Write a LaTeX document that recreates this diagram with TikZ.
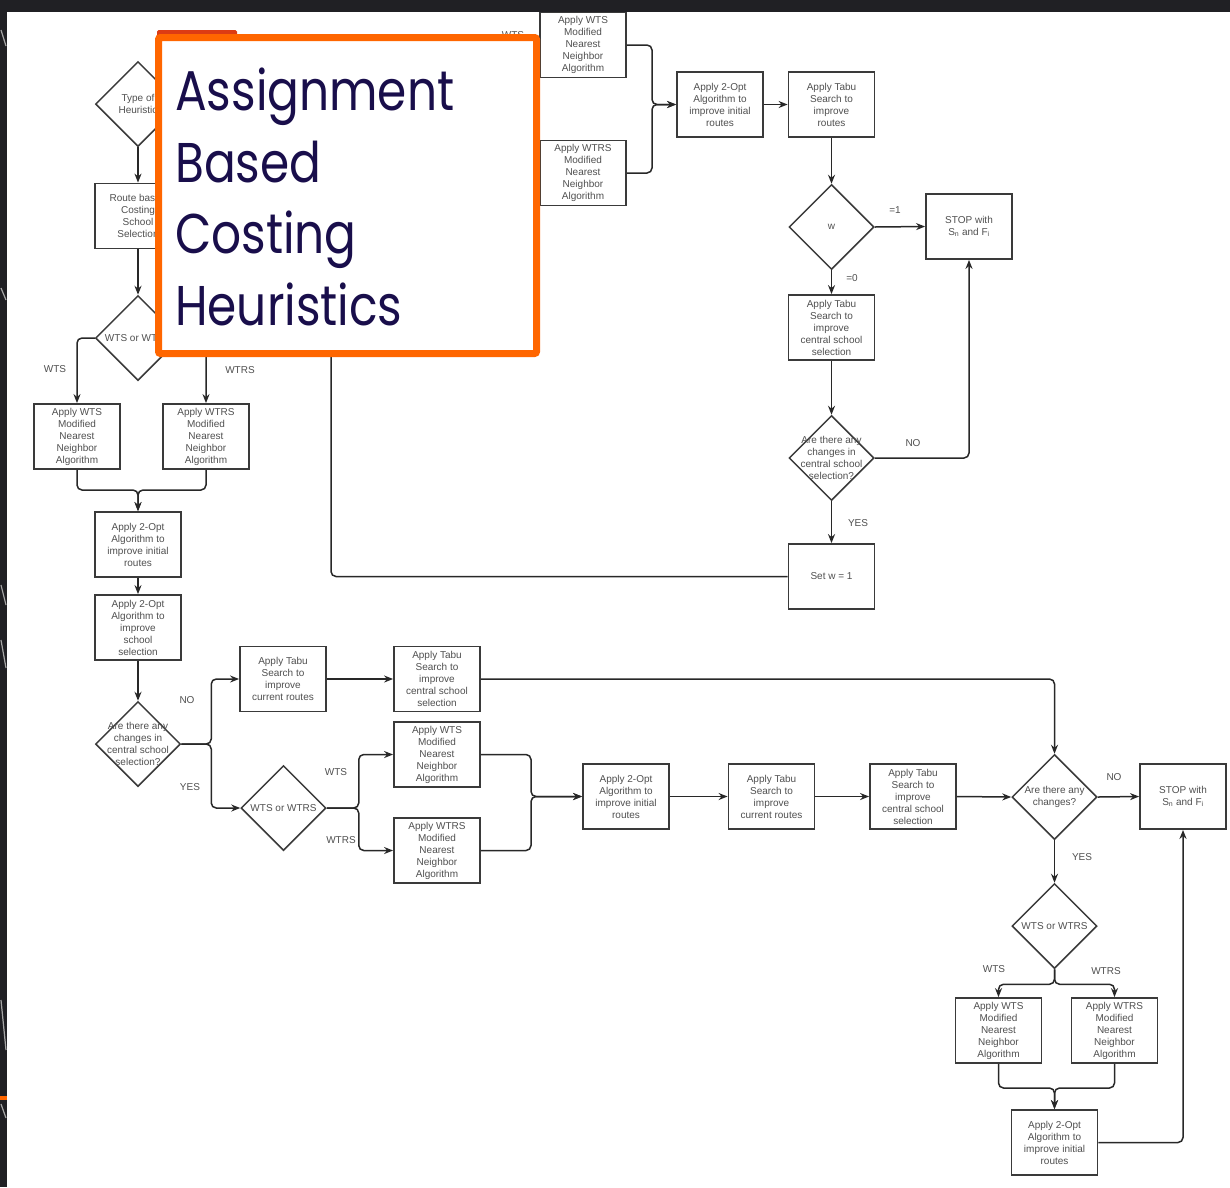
\documentclass[tikz,border=0pt]{standalone}
\usepackage{fontspec}
\setmainfont{Liberation Sans}
\newfontfamily\titlefont[FakeStretch=0.84]{Poppins}
\usetikzlibrary{shapes.geometric,arrows.meta}
\definecolor{boxc}{RGB}{58,58,58}
\definecolor{linec}{RGB}{40,40,40}
\definecolor{txtc}{RGB}{80,80,80}
\definecolor{orangec}{RGB}{255,102,0}
\definecolor{redtab}{RGB}{220,60,20}
\definecolor{titlec}{RGB}{25,14,75}
\definecolor{darkbg}{RGB}{32,32,36}
\newcommand{\boxfont}{\fontsize{10}{12}\selectfont}
\begin{document}
\begin{tikzpicture}[x=1pt,y=-1pt,
  stepbox/.style={draw=boxc, line width=1.8pt, fill=white, minimum width=86pt, minimum height=65pt,
    inner sep=1pt, align=center, font=\boxfont, text=txtc},
  dia/.style={draw=boxc, line width=1.5pt, fill=white, diamond, minimum width=85pt, minimum height=85pt, inner sep=0pt},
  dtxt/.style={font=\boxfont, text=txtc, align=center},
  conn/.style={draw=linec, line width=1.5pt, rounded corners=5pt},
  arr/.style={conn, -{Stealth[length=9pt,width=7pt]}},
  lbl/.style={font=\boxfont, text=txtc},
  titletxt/.style={font=\titlefont\fontsize{56}{60}\selectfont, text=titlec, inner sep=0pt}
]
\useasboundingbox (0,0) rectangle (1230,1187);
\fill[white] (0,0) rectangle (1230,1187);

% ---------- left column ----------
\node[dia] (dth) at (138,104) {};
\node[dtxt] (dthT) at (dth.center) {Type of\\Heuristic};
\node[stepbox] (route) at (138,216) {Route based\\Costing\\School\\Selection};
\node[dia] (dww1) at (138,338) {};
\node[dtxt] (dww1T) at (dww1.center) {WTS or WTRS};
\node[stepbox] (bw1) at (77,436.5) {Apply WTS\\Modified\\Nearest\\Neighbor\\Algorithm};
\node[stepbox] (bwr1) at (206,436.5) {Apply WTRS\\Modified\\Nearest\\Neighbor\\Algorithm};
\node[stepbox] (opt1) at (138,544.5) {Apply 2-Opt\\Algorithm to\\improve initial\\routes};
\node[stepbox] (opts) at (138,627.5) {Apply 2-Opt\\Algorithm to\\improve\\school\\selection};
\node[dia] (dch1) at (138,744) {};
\node[dtxt] (dch1T) at (dch1.center) {Are there any\\changes in\\central school\\selection?};

\coordinate (m1) at (138,490);
\draw[arr] (dth.south) -- (route.north);
\draw[arr] (route.south) -- (dww1.north);
\draw[arr] (dww1.west) -| (bw1.north);
\draw[arr] (dww1.east) -| (bwr1.north);
\draw[arr] (bw1.south) |- (m1) -- (opt1.north);
\draw[arr] (bwr1.south) |- (m1) -- (opt1.north);
\draw[arr] (opt1.south) -- (opts.north);
\draw[arr] (opts.south) -- (dch1.north);
\node[lbl] (lwts1) at (55,369) {WTS};
\node[lbl] (lwtrs1) at (240,370) {WTRS};

% ---------- lower middle row ----------
\node[stepbox] (tabu1) at (283,679) {Apply Tabu\\Search to\\improve\\current routes};
\node[stepbox] (tabuc1) at (437,679) {Apply Tabu\\Search to\\improve\\central school\\selection};
\node[dia] (dww2) at (283.5,808) {};
\node[dtxt] (dww2T) at (dww2.center) {WTS or WTRS};
\node[stepbox] (bw2) at (437,754.5) {Apply WTS\\Modified\\Nearest\\Neighbor\\Algorithm};
\node[stepbox] (bwr2) at (437,850.5) {Apply WTRS\\Modified\\Nearest\\Neighbor\\Algorithm};
\node[stepbox] (opt2) at (626,796.5) {Apply 2-Opt\\Algorithm to\\improve initial\\routes};
\node[stepbox] (tabu2) at (771.5,796.5) {Apply Tabu\\Search to\\improve\\current routes};
\node[stepbox] (tabuc2) at (913,796.5) {Apply Tabu\\Search to\\improve\\central school\\selection};
\node[dia] (dch2) at (1054.5,797) {};
\node[dtxt] (dch2T) at (dch2.center) {Are there any\\changes?};
\node[stepbox] (stop2) at (1183,796.5) {STOP with\\S\textsubscript{n} and F\textsubscript{i}};
\node[dia] (dww3) at (1054.5,926) {};
\node[dtxt] (dww3T) at (dww3.center) {WTS or WTRS};
\node[stepbox] (bw3) at (998.5,1030.5) {Apply WTS\\Modified\\Nearest\\Neighbor\\Algorithm};
\node[stepbox] (bwr3) at (1114.5,1030.5) {Apply WTRS\\Modified\\Nearest\\Neighbor\\Algorithm};
\node[stepbox] (opt3) at (1054.5,1142.5) {Apply 2-Opt\\Algorithm to\\improve initial\\routes};

\coordinate (m3) at (531,796.5);
\coordinate (m4) at (1054.5,1088);
\draw[arr] (dch1.east) -- ++(30,0) |- (tabu1.west);
\draw[arr] (dch1.east) -- ++(30,0) |- (dww2.west);
\draw[arr] (tabu1.east) -- (tabuc1.west);
\draw[arr] (tabuc1.east) -| (dch2.north);
\draw[arr] (dww2.east) -- ++(32,0) |- (bw2.west);
\draw[arr] (dww2.east) -- ++(32,0) |- (bwr2.west);
\draw[arr] (bw2.east) -| (m3) -- (opt2.west);
\draw[arr] (bwr2.east) -| (m3) -- (opt2.west);
\draw[arr] (opt2.east) -- (tabu2.west);
\draw[arr] (tabu2.east) -- (tabuc2.west);
\draw[arr] (tabuc2.east) -- (dch2.west);
\draw[arr] (dch2.east) -- (stop2.west);
\draw[arr] (dch2.south) -- (dww3.north);
\draw[arr] (dww3.south) -- ++(0,15) -| (bw3.north);
\draw[arr] (dww3.south) -- ++(0,15) -| (bwr3.north);
\draw[arr] (bw3.south) |- (m4) -- (opt3.north);
\draw[arr] (bwr3.south) |- (m4) -- (opt3.north);
\draw[arr] (opt3.east) -| (stop2.south);
\node[lbl] (lno1) at (187,700) {NO};
\node[lbl] (lyes1) at (190,787) {YES};
\node[lbl] (lwts2) at (336,772) {WTS};
\node[lbl] (lwtrs2) at (341,840) {WTRS};
\node[lbl] (lno2) at (1114,777) {NO};
\node[lbl] (lyes2) at (1082,857) {YES};
\node[lbl] (lwts3) at (994,969) {WTS};
\node[lbl] (lwtrs3) at (1106,971) {WTRS};

% ---------- top right ----------
\node[stepbox] (tw1) at (583,45) {Apply WTS\\Modified\\Nearest\\Neighbor\\Algorithm};
\node[stepbox] (tw2) at (583,173) {Apply WTRS\\Modified\\Nearest\\Neighbor\\Algorithm};
\node[stepbox] (topt) at (720,104.5) {Apply 2-Opt\\Algorithm to\\improve initial\\routes};
\node[stepbox] (ttabu) at (831.5,104.5) {Apply Tabu\\Search to\\improve\\routes};
\node[dia] (dw) at (831.5,227) {};
\node[dtxt] (dwT) at (dw.center) {w};
\node[stepbox] (stop1) at (969,226.5) {STOP with\\S\textsubscript{n} and F\textsubscript{i}};
\node[stepbox] (tabuc3) at (831.5,327.5) {Apply Tabu\\Search to\\improve\\central school\\selection};
\node[dia] (dch3) at (831.5,458) {};
\node[dtxt] (dch3T) at (dch3.center) {Are there any\\changes in\\central school\\selection?};
\node[stepbox] (setw) at (831.5,576.5) {Set w = 1};

\coordinate (m2) at (652,104.5);
\coordinate (ret) at (331,300);
\draw[arr] (tw1.east) -| (m2) -- (topt.west);
\draw[arr] (tw2.east) -| (m2) -- (topt.west);
\draw[arr] (topt.east) -- (ttabu.west);
\draw[arr] (ttabu.south) -- (dw.north);
\draw[arr] (dw.east) -- (stop1.west);
\draw[arr] (dw.south) -- (tabuc3.north);
\draw[arr] (tabuc3.south) -- (dch3.north);
\draw[arr] (dch3.east) -| (stop1.south);
\draw[arr] (dch3.south) -- (setw.north);
\draw[conn] (setw.west) -| (ret);
\node[lbl] (leq1) at (895,210) {=1};
\node[lbl] (leq0) at (852,278) {=0};
\node[lbl] (lno3) at (913,443) {NO};
\node[lbl] (lyes3) at (858,523) {YES};
\node[lbl] (lwtstop) at (513,35) {WTS};

% ---------- title box ----------
\fill[redtab, rounded corners=1.5pt] (157,30) rectangle (237,40);
\draw[orangec, line width=7pt, fill=white, rounded corners=2pt] (158.5,37.5) rectangle (536.5,353.5);
\node[titletxt, anchor=base west] (t1) at (175,110) {Assignment};
\node[titletxt, anchor=base west] (t2) at (175,182) {Based};
\node[titletxt, anchor=base west] (t3) at (175,253) {Costing};
\node[titletxt, anchor=base west] (t4) at (175,325) {Heuristics};

% ---------- dark frame ----------
\fill[darkbg] (0,0) rectangle (1230,12);
\fill[darkbg] (0,0) rectangle (7,1187);
\foreach \ya/\yb in {30/46, 288/300, 585/605, 640/668, 1000/1050, 1104/1118}
  \draw[gray!70, line width=1.2pt] (1,\ya) -- (6,\yb);
\fill[orangec] (0,1096) rectangle (7,1100);
\end{tikzpicture}
\end{document}
